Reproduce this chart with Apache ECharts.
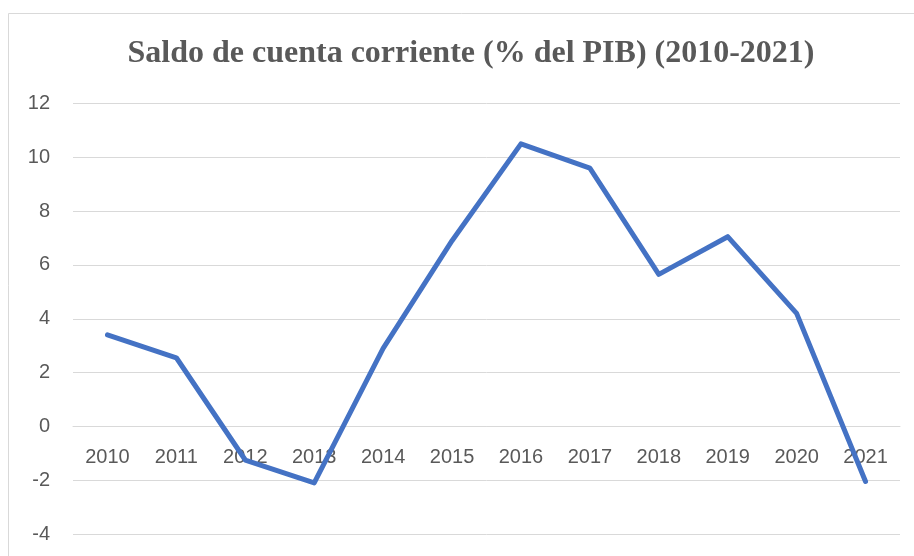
<!DOCTYPE html>
<html><head><meta charset="utf-8">
<script src="https://cdn.jsdelivr.net/npm/echarts@6/dist/echarts.min.js"></script>
<style>html,body{margin:0;padding:0;background:#fff}#c{width:914px;height:556px}</style>
</head><body><div id="c"></div>
<script>
const categories = ['2010','2011','2012','2013','2014','2015','2016','2017','2018','2019','2020','2021'];
const saldo = [3.4, 2.55, -1.25, -2.1, 2.9, 6.9, 10.5, 9.6, 5.65, 7.05, 4.2, -2.05];
const yTicks = {min: -4, max: 12, interval: 2};
const gridTop = 103.5, gridBottom = 22, H = 556;
const zeroOffset = (H - gridTop - gridBottom) * (0 - yTicks.min) / (yTicks.max - yTicks.min);
const chart = echarts.init(document.getElementById('c'));
chart.setOption({
  animation: false,
  backgroundColor: '#fff',
  graphic: [{type:'rect', shape:{x:8.5, y:13.5, width:920, height:560}, style:{fill:'none', stroke:'#d9d9d9', lineWidth:1}, silent:true}],
  title: {text: 'Saldo de cuenta corriente (% del PIB) (2010-2021)', left: 466, textAlign: 'center', top: 33,
    textStyle: {fontFamily: '"Liberation Serif", "Times New Roman", serif', fontWeight: 'bold', fontSize: 32, color: '#595959'}},
  grid: {left: 73, right: 14, top: gridTop, bottom: gridBottom, containLabel: false},
  xAxis: {type: 'category', data: categories, boundaryGap: true, offset: -zeroOffset,
    axisLine: {show: true, onZero: false, lineStyle: {color: '#d9d9d9', width: 1}},
    axisTick: {show: false},
    axisLabel: {color: '#595959', fontSize: 20, fontFamily: '"Liberation Sans", Arial, sans-serif', margin: 21}},
  yAxis: {type: 'value', min: yTicks.min, max: yTicks.max, interval: yTicks.interval,
    axisLine: {show: false}, axisTick: {show: false},
    splitLine: {lineStyle: {color: '#d9d9d9', width: 1}},
    axisLabel: {color: '#595959', fontSize: 20, fontFamily: '"Liberation Sans", Arial, sans-serif', margin: 23}},
  series: [{type: 'line', data: saldo, symbol: 'none', z: 5, lineStyle: {color: '#4472C4', width: 5, cap: 'round', join: 'round'}}]
});
</script></body></html>
